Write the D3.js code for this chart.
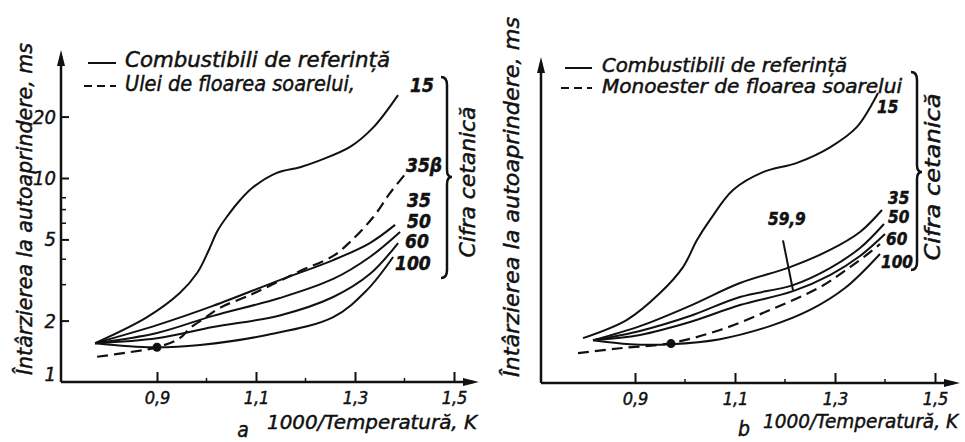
<!DOCTYPE html>
<html>
<head>
<meta charset="utf-8">
<script src="https://cdn.jsdelivr.net/npm/d3@7"></script>
<style>
  body { margin: 0; background: #fff; }
  svg text { font-family: "DejaVu Sans Condensed", "DejaVu Sans", sans-serif; font-style: italic; fill: #111;
    stroke: #111; stroke-width: 0.45px; }
</style>
</head>
<body>
<svg id="chart" width="965" height="442"></svg>
<script>
// tick values
const xTicks = [0.9, 1.1, 1.3, 1.5]
const xMinor = [1.0, 1.2, 1.4]
const yTicks = [1, 2, 5, 10, 20]
const yMinor = [3, 4, 6, 7, 8]

// panel a - reference fuels (cetane number) and sunflower oil, [1000/T, delay ms]
const a15 = [[0.775,1.55],[0.88,2.08],[0.946,2.73],[0.981,3.42],[1.005,4.45],[1.022,5.5],[1.044,6.6],[1.068,7.8],[1.094,9.0],[1.142,10.6],[1.189,11.3],[1.229,12.2],[1.29,14.2],[1.336,17.6],[1.387,25.5]]
const a35 = [[0.775,1.55],[0.9,1.90],[1.013,2.36],[1.148,3.16],[1.256,3.96],[1.33,4.80],[1.381,5.89]]
const a50 = [[0.775,1.55],[0.9,1.74],[1.013,2.11],[1.148,2.58],[1.256,3.20],[1.33,4.10],[1.391,5.44]]
const a60 = [[0.775,1.55],[0.9,1.64],[1.013,1.86],[1.148,2.12],[1.256,2.61],[1.33,3.38],[1.387,4.80]]
const a100 = [[0.775,1.55],[0.892,1.48],[0.987,1.52],[1.122,1.70],[1.256,2.08],[1.324,2.82],[1.377,4.10]]
const aOil = [[0.779,1.33],[0.845,1.40],[0.9,1.48],[0.946,1.64],[0.967,1.84],[0.997,2.06],[1.027,2.31],[1.088,2.67],[1.148,3.13],[1.189,3.50],[1.256,4.15],[1.29,4.86],[1.337,6.44],[1.371,8.45],[1.405,10.7]]
const aDot = [0.9, 1.48]

// panel b - reference fuels and sunflower monoester
const b15 = [[0.796,1.66],[0.884,2.04],[0.95,2.76],[0.996,3.70],[1.024,5.02],[1.05,6.3],[1.096,8.83],[1.156,10.8],[1.224,12.0],[1.29,14.3],[1.344,18.0],[1.386,26.4]]
const b35 = [[0.816,1.62],[0.91,1.90],[1.01,2.39],[1.11,3.09],[1.21,3.70],[1.29,4.49],[1.35,5.50],[1.394,7.05]]
const b50 = [[0.816,1.62],[0.91,1.80],[1.01,2.13],[1.11,2.64],[1.216,3.02],[1.29,3.66],[1.35,4.59],[1.398,6.02]]
const b60 = [[0.816,1.62],[0.91,1.72],[1.01,1.99],[1.11,2.41],[1.216,2.82],[1.29,3.38],[1.35,4.19],[1.40,5.37]]
const b100 = [[0.816,1.62],[0.89,1.55],[0.972,1.55],[1.07,1.64],[1.17,1.90],[1.25,2.28],[1.32,2.92],[1.39,4.29]]
const bOil = [[0.786,1.40],[0.87,1.48],[0.972,1.57],[1.07,1.82],[1.17,2.28],[1.27,2.95],[1.33,3.70],[1.376,4.49],[1.39,4.80]]
const bDot = [0.972, 1.56]
const bLeader = [[1.196,5.0],[1.216,2.85]]

const legendA = ["Combustibili de referință", "Ulei de floarea soarelui,"]
const legendB = ["Combustibili de referință", "Monoester de floarea soarelui"]
const labelsA = ["15", "35β", "35", "50", "60", "100"]
const labelsB = ["15", "35", "50", "60", "100", "59,9"]

const svg = d3.select("#chart")
const ink = "#111"

const panels = [
  {
    axX: 61, x09: 157, x15: 454, yBase: 382, decade: 204, yTop: 50, xEnd: 479,
    curves: [a15, a35, a50, a60, a100], oil: aOil, dot: aDot, leader: null, yLabels: true,
    legend: legendA, legX: 125, legY: [67, 91], legW: [265, 230], legSize: 21, symX: [88, 116], symY: [63, 86],
    labels: labelsA, labelSize: 19,
    labelPos: [[410,92],[406,172],[407,207],[407,228],[405,248],[395,270]],
    yTitle: [24, 209, 332], brace: [447, 77, 177, 278], cifra: [467, 182, 151],
    xTitle: [267, 429, 210, "1000/Temperatură, K"], tag: [243, 437, "a"]
  },
  {
    axX: 541, x09: 635, x15: 935, yBase: 383, decade: 204, yTop: 57, xEnd: 960,
    curves: [b15, b35, b50, b60, b100], oil: bOil, dot: bDot, leader: bLeader, yLabels: false,
    legend: legendB, legX: 602, legY: [72, 93], legW: [245, 300], legSize: 19, symX: [565, 592], symY: [68, 88],
    labels: labelsB, labelSize: 17,
    labelPos: [[877,113],[888,204],[888,223],[886,245],[881,268],[768,225]],
    yTitle: [511, 197, 360], brace: [917, 72, 172, 270], cifra: [932, 177, 167],
    xTitle: [763, 428, 195, "1000/Temperatură, K"], tag: [744, 436, "b"]
  }
]

function fmt(v) { return d3.format(".1f")(v).replace(".", ",") }

function drawPanel(p) {
  const g = svg.append("g")
  const x = d3.scaleLinear().domain([0.9, 1.5]).range([p.x09, p.x15])
  const y = d3.scaleLog().domain([1, 10]).range([p.yBase, p.yBase - p.decade])

  // x ticks through d3 axis
  const xa = g.append("g").attr("transform", `translate(0,${p.yBase})`)
    .call(d3.axisBottom(x).tickValues(xTicks).tickSizeInner(-10).tickSizeOuter(0).tickPadding(9).tickFormat(fmt))
  xa.select(".domain").remove()
  xa.selectAll(".tick line").attr("stroke", ink).attr("stroke-width", 2)
  xa.selectAll(".tick text").attr("font-size", 18).attr("font-family", null).attr("fill", ink)
  g.selectAll(".xminor").data(xMinor).join("line").attr("class", "xminor")
    .attr("x1", d => x(d)).attr("x2", d => x(d)).attr("y1", p.yBase).attr("y2", p.yBase - 4)
    .attr("stroke", ink).attr("stroke-width", 1.5)

  // y ticks (only panel a has labels)
  if (p.yLabels) {
    const ya = g.append("g").attr("transform", `translate(${p.axX},0)`)
      .call(d3.axisRight(y).tickValues(yTicks.slice(1)).tickSizeInner(8).tickSizeOuter(0).tickFormat(""))
    ya.select(".domain").remove()
    ya.selectAll(".tick line").attr("stroke", ink).attr("stroke-width", 2)
    g.selectAll(".yminor").data(yMinor).join("line").attr("class", "yminor")
      .attr("x1", p.axX).attr("x2", p.axX + 5).attr("y1", d => y(d)).attr("y2", d => y(d))
      .attr("stroke", ink).attr("stroke-width", 1.5)
    g.selectAll(".ylab").data(yTicks).join("text").attr("class", "ylab")
      .attr("x", p.axX - 5).attr("y", d => y(d) - (d === 1 ? 8 : 0)).attr("dy", "0.35em")
      .attr("text-anchor", "end").attr("font-size", 20).text(d => d)
  }

  // axis lines with arrow heads
  g.append("path").attr("d", `M${p.axX},${p.yBase}V${p.yTop + 6}M${p.axX},${p.yBase}H${p.xEnd - 6}`)
    .attr("stroke", ink).attr("stroke-width", 2.5).attr("fill", "none")
  g.append("path").attr("d", `M${p.axX - 4},${p.yTop + 16}L${p.axX},${p.yTop}L${p.axX + 4},${p.yTop + 16}Z`).attr("fill", ink)
  g.append("path").attr("d", `M${p.xEnd - 16},${p.yBase - 4}L${p.xEnd},${p.yBase}L${p.xEnd - 16},${p.yBase + 4}Z`).attr("fill", ink)

  // curves
  const line = d3.line().x(d => x(d[0])).y(d => y(d[1])).curve(d3.curveCatmullRom.alpha(0.5))
  g.selectAll(".ref").data(p.curves).join("path").attr("class", "ref")
    .attr("d", line).attr("fill", "none").attr("stroke", ink).attr("stroke-width", 2)
  g.append("path").attr("d", line(p.oil)).attr("fill", "none").attr("stroke", ink)
    .attr("stroke-width", 2.2).attr("stroke-dasharray", "11,6")
  g.append("circle").attr("cx", x(p.dot[0])).attr("cy", y(p.dot[1])).attr("r", 4.5).attr("fill", ink)
  if (p.leader) {
    g.append("path").attr("d", d3.line().x(d => x(d[0])).y(d => y(d[1]))(p.leader))
      .attr("stroke", ink).attr("stroke-width", 2).attr("fill", "none")
  }

  // curve labels
  g.selectAll(".clab").data(p.labels).join("text").attr("class", "clab")
    .attr("x", (d, i) => p.labelPos[i][0]).attr("y", (d, i) => p.labelPos[i][1])
    .attr("font-size", p.labelSize).attr("font-weight", "bold").text(d => d)

  // legend
  g.append("line").attr("x1", p.symX[0]).attr("x2", p.symX[1]).attr("y1", p.symY[0]).attr("y2", p.symY[0])
    .attr("stroke", ink).attr("stroke-width", 2)
  g.append("line").attr("x1", p.symX[0] - 4).attr("x2", p.symX[1]).attr("y1", p.symY[1]).attr("y2", p.symY[1])
    .attr("stroke", ink).attr("stroke-width", 2).attr("stroke-dasharray", "8,5")
  g.selectAll(".leg").data(p.legend).join("text").attr("class", "leg")
    .attr("x", p.legX).attr("y", (d, i) => p.legY[i]).attr("font-size", p.legSize)
    .attr("textLength", (d, i) => p.legW[i]).attr("lengthAdjust", "spacingAndGlyphs").text(d => d)

  // y title
  g.append("text").attr("transform", `translate(${p.yTitle[0]},${p.yTitle[1]}) rotate(-90)`)
    .attr("text-anchor", "middle").attr("dy", "0.35em").attr("font-size", 22)
    .attr("textLength", p.yTitle[2]).attr("lengthAdjust", "spacingAndGlyphs")
    .text("Întârzierea la autoaprindere, ms")

  // cetane brace + label
  const [bx, bt, bm, bb] = p.brace
  g.append("path")
    .attr("d", `M${bx - 6},${bt} Q${bx},${bt} ${bx},${bt + 8} L${bx},${bm - 7} Q${bx},${bm} ${bx + 5},${bm} Q${bx},${bm} ${bx},${bm + 7} L${bx},${bb - 8} Q${bx},${bb} ${bx - 6},${bb}`)
    .attr("fill", "none").attr("stroke", ink).attr("stroke-width", 2.5)
  g.append("text").attr("transform", `translate(${p.cifra[0]},${p.cifra[1]}) rotate(-90)`)
    .attr("text-anchor", "middle").attr("dy", "0.35em").attr("font-size", 22)
    .attr("textLength", p.cifra[2]).attr("lengthAdjust", "spacingAndGlyphs").text("Cifra cetanică")

  // x title and panel tag
  g.append("text").attr("x", p.xTitle[0]).attr("y", p.xTitle[1]).attr("font-size", 20)
    .attr("textLength", p.xTitle[2]).attr("lengthAdjust", "spacingAndGlyphs").text(p.xTitle[3])
  g.append("text").attr("x", p.tag[0]).attr("y", p.tag[1]).attr("text-anchor", "middle")
    .attr("font-size", 21).text(p.tag[2])
}

panels.forEach(drawPanel)
</script>
</body>
</html>
